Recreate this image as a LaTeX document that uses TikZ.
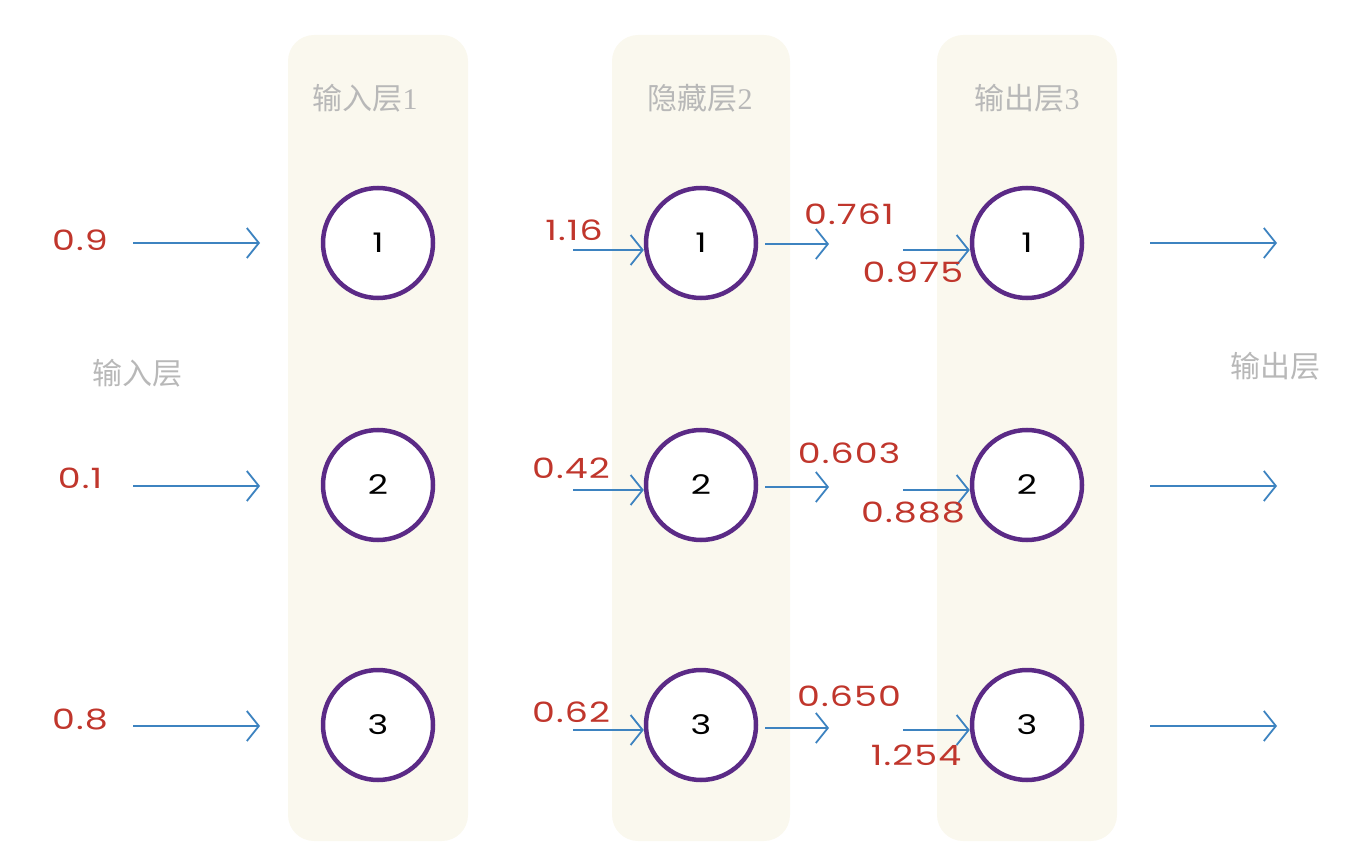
\documentclass[tikz,border=0pt]{standalone}
\usepackage{fontspec}
\setmainfont{Liberation Serif}
\newfontfamily\cjk{Noto Sans CJK SC}
\newfontfamily\hand[FakeStretch=1.3,LetterSpace=4]{Poppins}
\usetikzlibrary{arrows.meta}
\definecolor{colbg}{HTML}{FAF8EE}
\definecolor{ttlgray}{HTML}{B8B8B8}
\definecolor{numred}{HTML}{C0362C}
\definecolor{arrblue}{HTML}{3D83C0}
\definecolor{neur}{HTML}{5B2A86}
\tikzset{
  column/.style={fill=colbg, draw=none, rounded corners=26pt},
  ttl/.style={text=ttlgray, font=\fontsize{30}{34}\selectfont\cjk},
  neuron/.style={circle, draw=neur, line width=4.5pt, fill=white, minimum size=110pt, inner sep=0pt, font=\fontsize{27}{30}\selectfont\hand},
  val/.style={text=numred, font=\fontsize{28}{32}\selectfont\hand, inner sep=1pt},
  flow/.style={draw=arrblue, line width=1.8pt, -{Straight Barb[length=12pt,width=30pt,line width=1.8pt]}},
}
\begin{document}
\begin{tikzpicture}[x=1pt,y=-1pt]
\useasboundingbox (0,0) rectangle (1360,866);
% columns
\fill[column] (288,35) rectangle (468,841);
\fill[column] (612,35) rectangle (790,841);
\fill[column] (937,35) rectangle (1117,841);
% titles
\node[ttl] (t1) at (365,98) {输入层\rmfamily 1};
\node[ttl] (t2) at (700,98) {隐藏层\rmfamily 2};
\node[ttl] (t3) at (1027,98) {输出层\rmfamily 3};
\node[ttl] (tin) at (137,373) {输入层};
\node[ttl] (tout) at (1275,366) {输出层};
% neurons
\foreach \r/\y in {1/243,2/485,3/725}{
  \node[neuron] (a\r) at (378,\y) {\r};
  \node[neuron] (b\r) at (701,\y) {\r};
  \node[neuron] (c\r) at (1027,\y) {\r};
}
% input arrows
\foreach \r/\y in {1/243,2/486,3/726}{
  \coordinate (is\r) at (133,\y);
  \coordinate (ie\r) at (260,\y);
  \draw[flow] (is\r) -- (ie\r);
  \coordinate (os\r) at (1150,\y);
  \coordinate (oe\r) at (1277,\y);
  \draw[flow] (os\r) -- (oe\r);
}
% hidden in/out and output in arrows
\foreach \r/\y in {1/250,2/490,3/730}{
  \coordinate (hs\r) at (573,\y);
  \draw[flow] (hs\r) -- (b\r.west |- hs\r);
  \coordinate (ps\r) at (903,\y);
  \draw[flow] (ps\r) -- (c\r.west |- ps\r);
}
\foreach \r/\y in {1/244,2/487,3/728}{
  \coordinate (hos\r) at (765,\y);
  \coordinate (hoe\r) at (829,\y);
  \draw[flow] (hos\r) -- (hoe\r);
}
% values
\node[val] (v1) at (80,240) {0.9};
\node[val] (v2) at (80,478) {0.1};
\node[val] (v3) at (80,720) {0.8};
\node[val] (h1) at (574,230) {1.16};
\node[val] (h2) at (571,468) {0.42};
\node[val] (h3) at (571,712) {0.62};
\node[val] (g1) at (849,214) {0.761};
\node[val] (g2) at (849,453) {0.603};
\node[val] (g3) at (849,696) {0.650};
\node[val] (p1) at (913,272) {0.975};
\node[val] (p2) at (913,513) {0.888};
\node[val] (p3) at (916,755) {1.254};
\end{tikzpicture}
\end{document}
